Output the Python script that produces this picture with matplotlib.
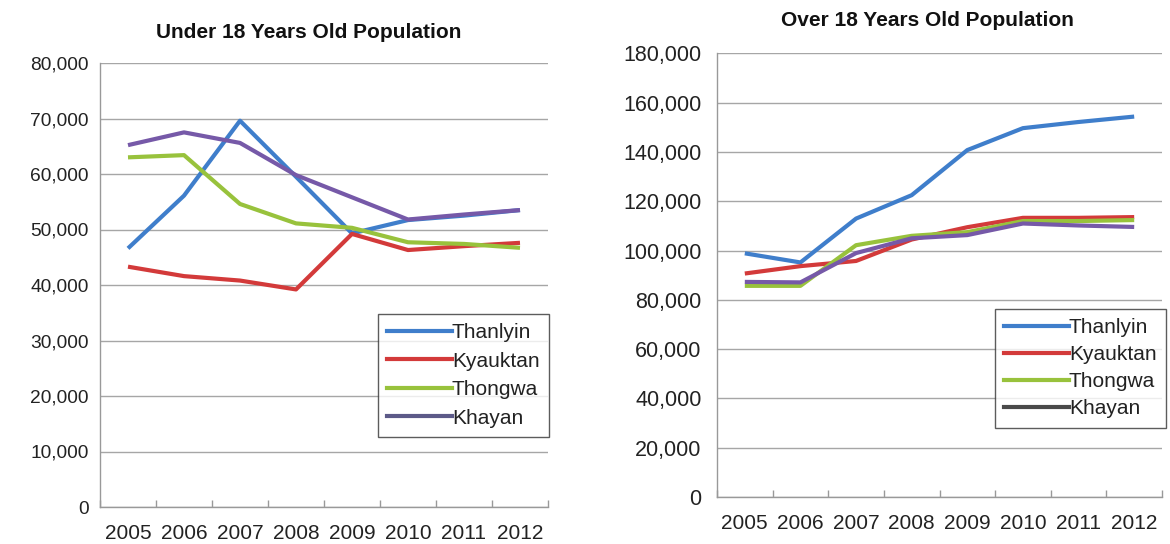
import matplotlib
matplotlib.use("Agg")
import matplotlib.pyplot as plt
from matplotlib.lines import Line2D
from matplotlib.ticker import FuncFormatter, FixedLocator

plt.rcParams['font.family'] = ['Liberation Sans', 'DejaVu Sans']

years = ['2005', '2006', '2007', '2008', '2009', '2010', '2011', '2012']
townships = ['Thanlyin', 'Kyauktan', 'Thongwa', 'Khayan']

# Under 18 population by township
under18_thanlyin = [46600, 56100, 69600, 59500, 49300, 51700, 52500, 53500]
under18_kyauktan = [43300, 41600, 40800, 39200, 49200, 46300, 47000, 47600]
under18_thongwa = [63000, 63400, 54600, 51100, 50300, 47700, 47400, 46700]
under18_khayan = [65200, 67500, 65600, 59800, 55800, 51800, 52700, 53500]

# Over 18 population by township
over18_thanlyin = [98900, 95200, 113000, 122500, 140800, 149700, 152200, 154400]
over18_kyauktan = [90700, 93700, 95800, 104500, 109500, 113300, 113300, 113600]
over18_thongwa = [85700, 85700, 102200, 106000, 107500, 112000, 112000, 112400]
over18_khayan = [87300, 87100, 99000, 105000, 106300, 111000, 110200, 109600]

colors = ['#3f7ecb', '#d33a3a', '#98c23c', '#7659a8']
legend_khayan = ['#5c5a88', '#4a4a4a']

fig = plt.figure(figsize=(11.7, 5.44), dpi=100)
W, H = 1170, 544


def make_axes(px_left, px_right, px_top, px_bottom):
    return fig.add_axes([px_left / W, 1 - px_bottom / H,
                         (px_right - px_left) / W, (px_bottom - px_top) / H])


def style(ax, series, ymax, step, khayan_handle_color, legend_xy, ysize,
          ypad, spacing):
    x = list(range(len(years)))
    for vals, c in zip(series, colors):
        ax.plot(x, vals, color=c, lw=3.0, solid_capstyle='butt',
                solid_joinstyle='round', zorder=3)
    ax.set_xlim(-0.5, len(years) - 0.5)
    ax.set_ylim(0, ymax)
    ax.set_yticks(range(0, ymax + 1, step))
    ax.yaxis.set_major_formatter(FuncFormatter(lambda v, p: f'{int(v):,}'))
    ax.set_xticks(x)
    ax.set_xticklabels(years)
    ax.xaxis.set_minor_locator(FixedLocator([i + 0.5 for i in range(-1, len(years))]))
    ax.tick_params(axis='x', which='major', length=0, pad=12, labelsize=15,
                   colors='#222222')
    ax.tick_params(axis='x', which='minor', length=5, direction='in',
                   color='#999999', width=1)
    ax.tick_params(axis='y', length=0, pad=ypad, labelsize=ysize,
                   colors='#222222')
    ax.grid(axis='y', color='#a6a6a6', lw=1.0, zorder=0)
    for s in ['top', 'right']:
        ax.spines[s].set_visible(False)
    for s in ['left', 'bottom']:
        ax.spines[s].set_color('#999999')
        ax.spines[s].set_linewidth(1.0)
    handle_colors = colors[:3] + [khayan_handle_color]
    handles = [Line2D([], [], color=c, lw=3.0) for c in handle_colors]
    leg = fig.legend(handles, townships, loc='upper left',
                     bbox_to_anchor=(legend_xy[0] / W, 1 - legend_xy[1] / H),
                     bbox_transform=fig.transFigure, fontsize=15,
                     frameon=True, fancybox=False, edgecolor='#333333',
                     handlelength=3.1, handletextpad=0.0, labelspacing=spacing,
                     borderpad=0.45, borderaxespad=0.0)
    leg.get_frame().set_linewidth(1.0)
    for t in leg.get_texts():
        t.set_color('#222222')


ax1 = make_axes(100, 548, 63, 507)
style(ax1, [under18_thanlyin, under18_kyauktan, under18_thongwa, under18_khayan],
      80000, 10000, legend_khayan[0], (378, 314), 13.8, 8, 0.45)

ax2 = make_axes(717, 1162, 53.5, 497)
style(ax2, [over18_thanlyin, over18_kyauktan, over18_thongwa, over18_khayan],
      180000, 20000, legend_khayan[1], (995, 309), 15.5, 11, 0.38)

fig.text(309 / W, 1 - 33 / H, 'Under 18 Years Old Population', ha='center',
         va='center', fontsize=15, fontweight='bold', color='#111111')
fig.text(927 / W, 1 - 20 / H, 'Over 18 Years Old Population', ha='center',
         va='center', fontsize=15, fontweight='bold', color='#111111')

fig.savefig('out.png', dpi=100)
